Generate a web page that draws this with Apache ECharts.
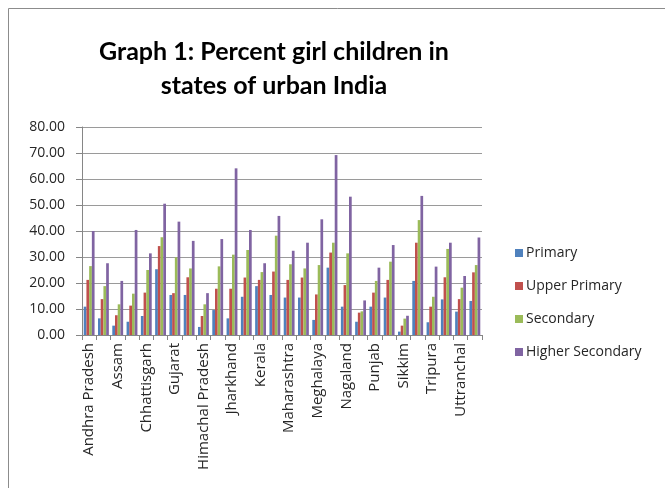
<!DOCTYPE html>
<html>
<head>
<meta charset="utf-8">
<script src="https://cdn.jsdelivr.net/npm/echarts@6/dist/echarts.min.js"></script>
<style>
  html, body { margin: 0; padding: 0; background: #fff; }
  #chart { width: 665px; height: 488px; }
</style>
</head>
<body>
<div id="chart"></div>
<script>
// states (only every other one gets a label, like the original)
const states = [
  "Andhra Pradesh", "Arunachal Pradesh", "Assam", "Bihar", "Chhattisgarh", "Goa",
  "Gujarat", "Haryana", "Himachal Pradesh", "Jammu & Kashmir", "Jharkhand", "Karnataka",
  "Kerala", "Madhya Pradesh", "Maharashtra", "Manipur", "Meghalaya", "Mizoram",
  "Nagaland", "Orissa", "Punjab", "Rajasthan", "Sikkim", "Tamil Nadu",
  "Tripura", "Uttar Pradesh", "Uttranchal", "West Bengal"
];
const seriesNames = ["Primary", "Upper Primary", "Secondary", "Higher Secondary"];
const primary = [10.9, 6.4, 3.6, 5.1, 7.3, 25.3, 15.4, 15.4, 3.1, 9.6, 6.4, 14.7, 18.8, 15.4,
  14.4, 14.4, 5.8, 25.9, 10.9, 5.1, 10.9, 14.4, 1.3, 20.8, 4.9, 13.7, 9.0, 13.1];
const upperPrimary = [21.2, 13.8, 7.6, 11.3, 16.3, 34.2, 16.1, 22.2, 7.3, 17.8, 17.8, 22.1, 21.2, 24.4,
  21.2, 22.1, 15.6, 31.7, 19.2, 8.6, 16.3, 21.2, 3.6, 35.5, 10.9, 22.2, 13.8, 24.1];
const secondary = [26.5, 18.8, 11.8, 15.9, 25.0, 37.6, 29.9, 25.6, 11.8, 26.4, 30.9, 32.7, 24.2, 38.2,
  27.2, 25.6, 26.9, 35.5, 31.4, 9.1, 20.8, 28.2, 6.3, 44.2, 14.7, 33.1, 18.2, 26.9];
const higherSecondary = [40.0, 27.6, 20.8, 40.4, 31.4, 50.5, 43.6, 36.2, 16.1, 36.9, 64.1, 40.4, 27.6, 45.8,
  32.4, 35.5, 44.5, 69.2, 53.2, 13.3, 25.9, 34.6, 7.4, 53.5, 26.3, 35.5, 22.7, 37.5];
const colors = ["#4F81BD", "#C0504D", "#9BBB59", "#8064A2"];

const chart = echarts.init(document.getElementById("chart"));
const allData = [primary, upperPrimary, secondary, higherSecondary];

let option = {
  animation: false,
  color: colors,
  graphic: [
    {
      type: "rect",
      shape: { x: 8.5, y: 8.5, width: 700, height: 520 },
      style: { fill: "none", stroke: "#8c8c8c", lineWidth: 1 },
    },
  ],
  title: {
    text: "Graph 1: Percent girl children in\nstates of urban India",
    left: 269,
    top: 30,
    textAlign: "center",
    textStyle: {
      fontFamily: "Lato",
      fontWeight: "bold",
      fontSize: 25,
      lineHeight: 34,
      color: "#000",
    },
  },
  legend: {
    orient: "vertical",
    left: 510,
    top: 241,
    itemWidth: 8,
    itemHeight: 8,
    itemGap: 19,
    icon: "rect",
    textStyle: { fontFamily: "Open Sans", fontSize: 14, color: "#262626", padding: [0, 0, 0, -2] },
    data: seriesNames,
  },
  grid: { left: 82, right: 183, top: 127, bottom: 153 },
  xAxis: {
    type: "category",
    data: states,
    axisLine: { lineStyle: { color: "#868686" } },
    axisTick: { show: true, interval: 0, length: 5, lineStyle: { color: "#868686" } },
    axisLabel: {
      interval: 1,
      rotate: 90,
      margin: 8,
      fontFamily: "Open Sans",
      fontSize: 15,
      color: "#262626",
    },
  },
  yAxis: {
    type: "value",
    min: 0,
    max: 80,
    interval: 10,
    axisLine: { show: true, lineStyle: { color: "#868686" } },
    axisTick: { show: true, length: 6, lineStyle: { color: "#868686" } },
    splitLine: { lineStyle: { color: "#9a9a9a" } },
    axisLabel: {
      margin: 17,
      fontFamily: "Open Sans",
      fontSize: 14,
      color: "#262626",
      formatter: (v) => v.toFixed(2),
    },
  },
  series: allData.map((d, i) => ({
    name: seriesNames[i],
    type: "bar",
    data: d,
    barGap: "0%",
    barCategoryGap: "24%",
  })),
};

option && chart.setOption(option);
</script>
</body>
</html>
